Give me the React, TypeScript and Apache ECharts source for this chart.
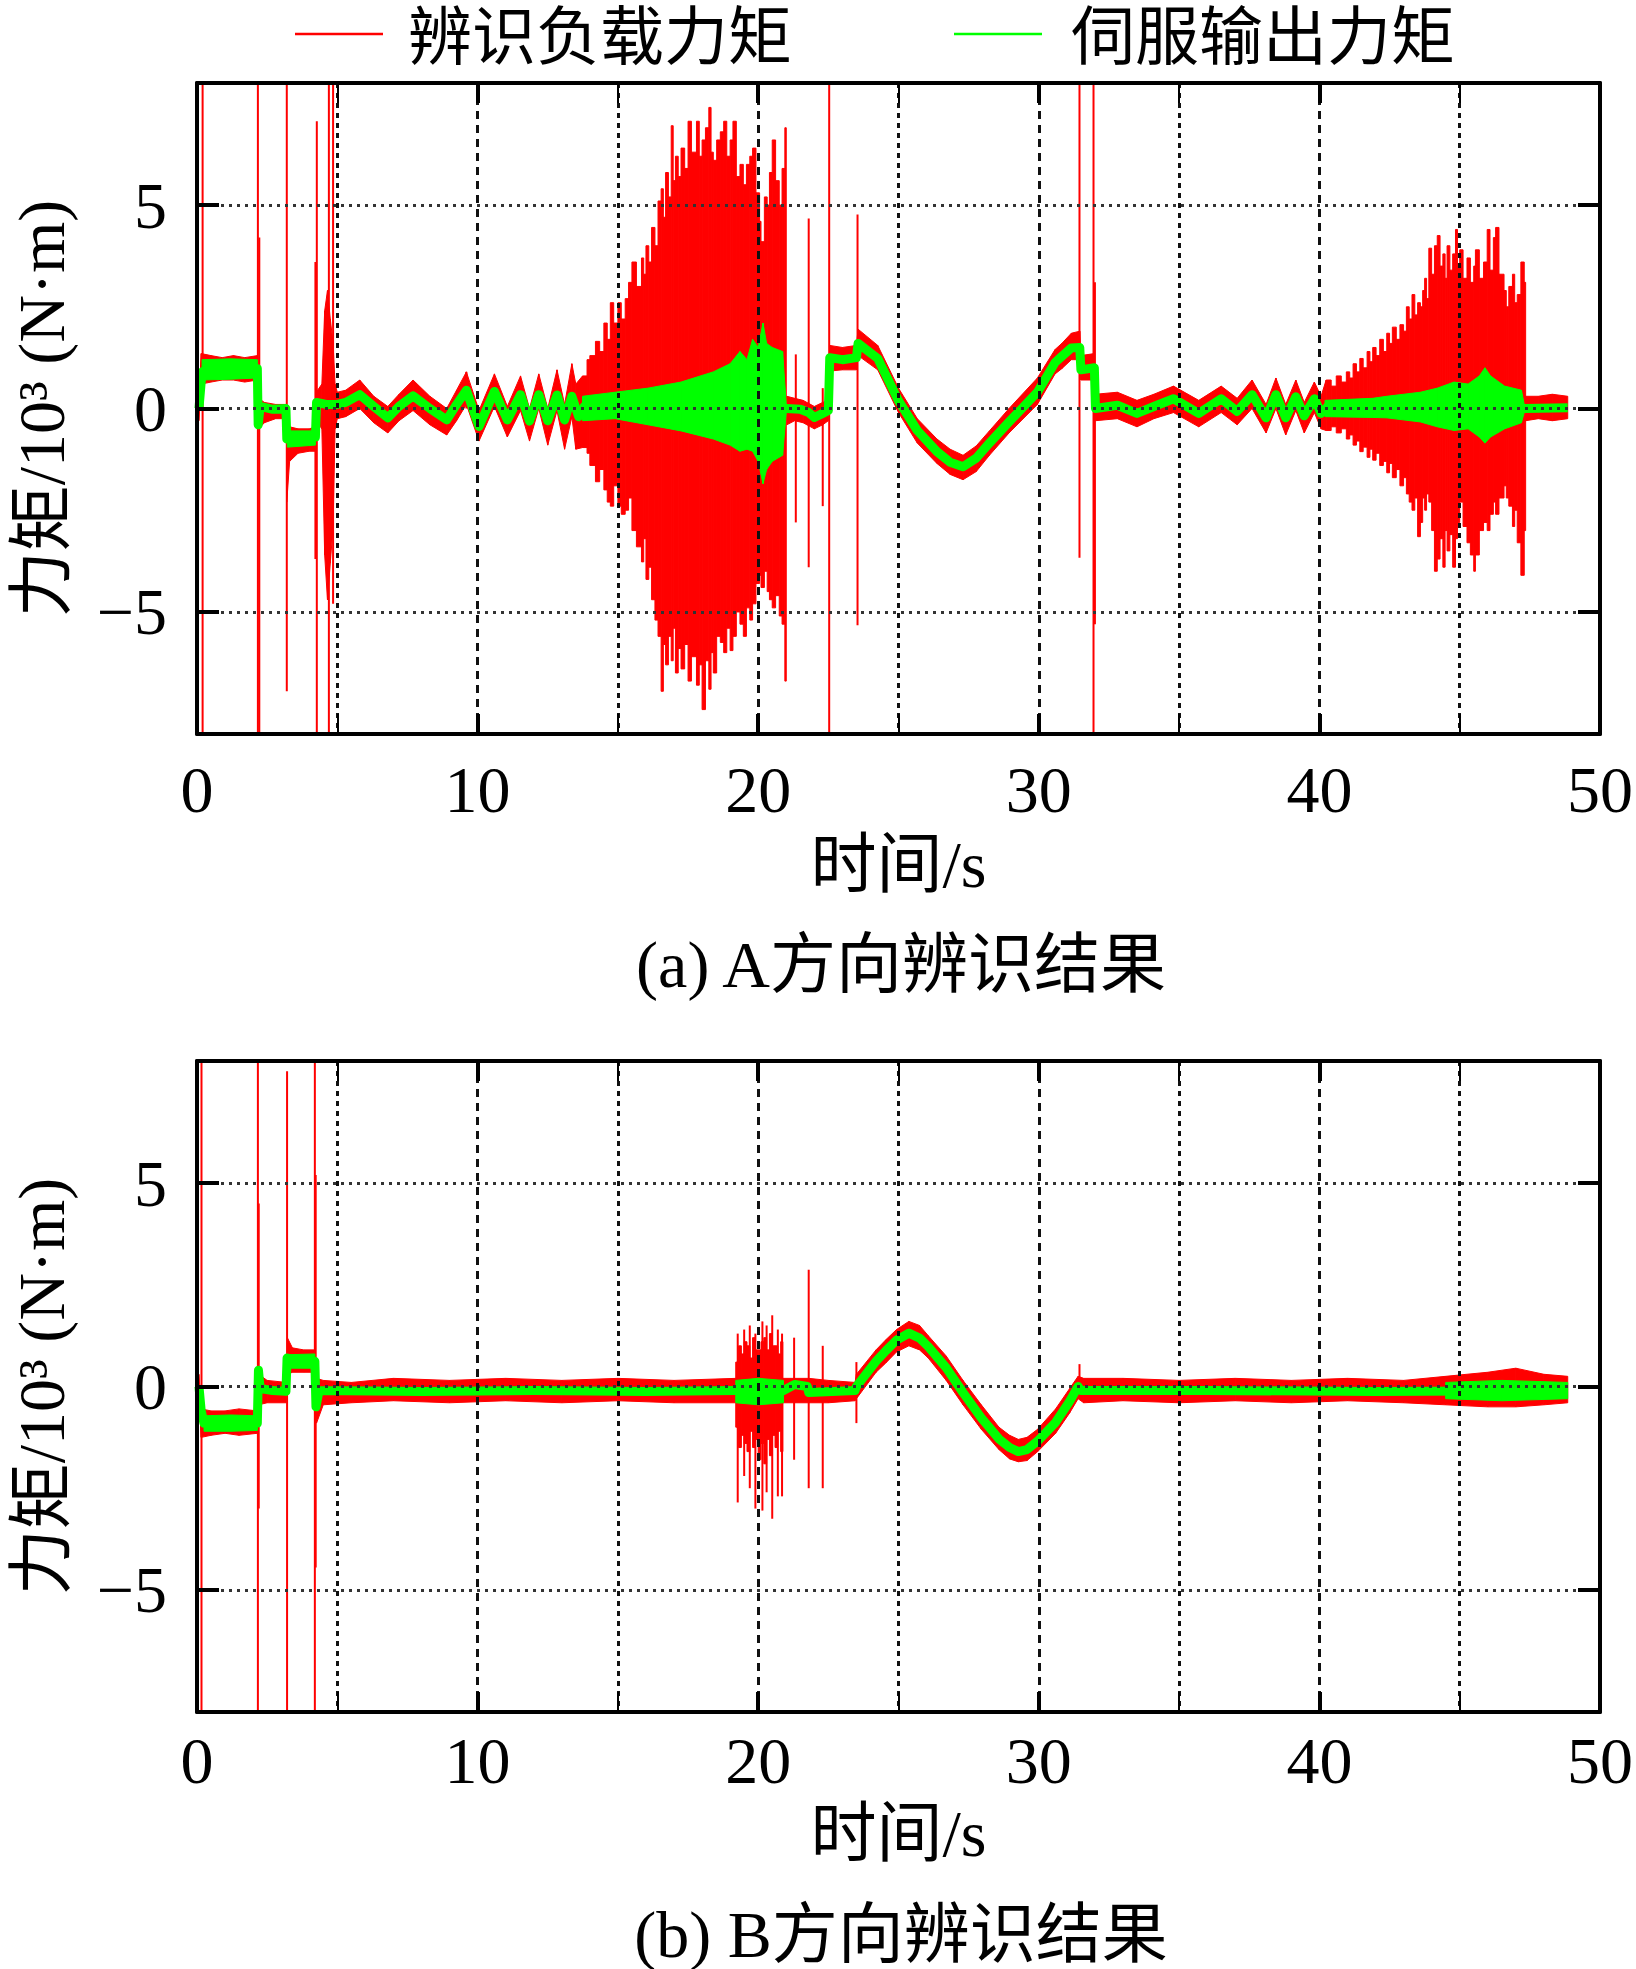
import React, { useEffect, useRef } from "react";
import * as echarts from "echarts";

// ---------- tick labels ----------
const X_TICKS = [0, 10, 20, 30, 40, 50];
const Y_TICKS = [-5, 0, 5];
const LEGEND_NAMES = ["辨识负载力矩", "伺服输出力矩"];
const TITLES = ["(a) A方向辨识结果", "(b) B方向辨识结果"];

// ---------- chart A : servo output torque (green centre) [t, v] ----------
const servoA: number[][] = [
  [0.07, 0.0], [0.18, 0.9], [0.5, 1.0], [1.0, 0.95], [1.5, 1.0], [2.15, 0.98], [2.18, -0.4], [2.25, 0.05],
  [2.7, -0.02], [3.17, 0.0], [3.2, -0.75], [3.7, -0.72], [4.22, -0.7], [4.26, 0.15], [4.6, 0.1], [5.0, 0.1],
  [5.3, 0.15], [5.8, 0.34], [6.3, 0.05], [6.8, -0.23], [7.2, 0.05], [7.7, 0.31], [8.3, 0.0], [8.9, -0.28],
  [9.25, 0.1], [9.6, 0.45], [10.05, -0.44], [10.6, 0.42], [11.06, -0.28], [11.53, 0.34], [11.85, -0.31],
  [12.18, 0.34], [12.5, -0.3], [12.83, 0.33], [13.1, -0.28], [13.36, 0.3], [13.6, -0.2], [13.8, 0.05],
  [21.0, 0.0], [21.5, -0.02], [21.8, -0.1], [22.0, -0.22], [22.3, -0.12], [22.5, -0.05], [22.55, 1.25],
  [23.0, 1.2], [23.5, 1.25], [23.56, 1.6], [24.26, 1.23], [25.0, 0.19], [25.67, -0.54], [26.37, -1.06],
  [26.84, -1.32], [27.3, -1.43], [27.77, -1.22], [28.24, -0.85], [28.94, -0.33], [29.95, 0.4], [30.58, 1.13],
  [30.82, 1.28], [31.16, 1.49], [31.46, 1.5],
  [31.5, 0.95], [31.98, 1.0], [32.02, 0.0], [32.8, 0.08], [33.5, -0.12], [34.1, 0.05], [34.8, 0.24],
  [35.7, -0.12], [36.5, 0.24], [37.07, -0.07], [37.6, 0.34], [38.1, -0.23], [38.45, 0.34], [38.8, -0.23],
  [39.16, 0.29], [39.46, -0.18], [39.82, 0.24], [40.06, -0.12], [40.3, 0.05], [47.3, 0.0], [48.85, 0.02],
];

// green spread bands [t, high, low]
const servoBandA1: number[][] = [[0.18, 1.2, 0.7], [1.2, 1.22, 0.72], [2.15, 1.2, 0.75]];
const servoBandA2: number[][] = [[3.22, -0.55, -0.95], [4.22, -0.55, -0.9]];
const servoBandA3: number[][] = [
  [13.74, 0.3, -0.3], [14.9, 0.4, -0.25], [16.07, 0.5, -0.4], [17.25, 0.65, -0.55], [18.4, 0.9, -0.75],
  [19.0, 1.1, -0.9], [19.35, 1.4, -1.05], [19.6, 1.2, -1.0], [19.8, 1.7, -1.05], [20.0, 1.5, -1.3],
  [20.17, 2.1, -1.85], [20.3, 1.6, -1.5], [20.5, 1.5, -1.3], [20.87, 1.4, -1.15], [21.0, 0.1, -0.1],
];
const servoBandA4: number[][] = [
  [40.2, 0.2, -0.2], [41.9, 0.25, -0.22], [42.4, 0.3, -0.23], [43.6, 0.4, -0.33], [44.2, 0.5, -0.45],
  [44.8, 0.65, -0.54], [45.3, 0.6, -0.5], [45.7, 0.8, -0.7], [45.9, 1.0, -0.85], [46.1, 0.8, -0.7],
  [46.6, 0.55, -0.5], [47.2, 0.45, -0.35], [47.3, 0.1, -0.1],
];

// ---------- chart A : identified load torque (red) bands [t, high, low] ----------
const identBandA1: number[][] = [
  [0.07, 0.3, -0.3], [0.15, 1.35, 0.6], [0.5, 1.3, 0.65], [0.9, 1.25, 0.7], [1.3, 1.3, 0.7], [1.7, 1.25, 0.65],
  [2.15, 1.3, 0.7],
];
const identBandA2: number[][] = [[2.2, 0.25, -0.5], [2.4, 0.15, -0.35], [2.8, 0.1, -0.25], [3.18, 0.1, -0.25]];
const identBandA3: number[][] = [[3.2, -0.5, -2.3], [3.3, -0.45, -1.3], [3.6, -0.5, -1.1], [4.0, -0.5, -1.05], [4.24, -0.45, -1.05]];
const identBandA4: number[][] = [
  [4.25, 0.4, -0.3], [4.45, 0.6, -0.5], [4.55, 2.4, -3.6], [4.65, 2.9, -4.7], [4.75, 2.2, -3.8], [4.85, 1.6, -2.9],
  [4.92, 0.6, -0.5], [5.0, 0.4, -0.25], [5.3, 0.45, -0.2], [5.8, 0.7, 0.0], [6.3, 0.3, -0.35], [6.8, 0.05, -0.6],
  [7.2, 0.35, -0.3], [7.7, 0.7, -0.05], [8.3, 0.3, -0.4], [8.9, 0.0, -0.65], [9.25, 0.45, -0.3], [9.6, 0.9, 0.1],
  [10.05, -0.05, -0.8], [10.6, 0.85, 0.05], [11.06, 0.05, -0.7], [11.53, 0.8, -0.05], [11.85, 0.0, -0.8],
  [12.18, 0.85, 0.0], [12.5, 0.0, -0.9], [12.83, 0.95, -0.05], [13.1, 0.1, -1.0], [13.36, 1.1, -0.2],
  [13.5, 0.6, -1.0], [13.74, 0.8, -0.96],
];
// burst envelope, drawn as a skyline of columns
const identBurstA1: number[][] = [
  [13.74, 0.8, -0.96], [13.9, 1.2, -1.1], [14.0, 1.3, -1.4], [14.2, 1.65, -1.8], [14.35, 1.4, -1.5],
  [14.5, 2.1, -2.0], [14.62, 1.7, -2.3], [14.73, 2.6, -2.4], [14.85, 2.1, -1.9], [15.0, 2.6, -2.4],
  [15.12, 2.2, -2.6], [15.26, 2.7, -2.5], [15.38, 3.1, -2.2], [15.5, 3.6, -3.0], [15.66, 3.0, -3.4],
  [15.84, 3.7, -3.77], [15.92, 3.3, -3.2], [16.0, 4.0, -4.2], [16.1, 3.6, -3.9], [16.2, 4.45, -4.7],
  [16.32, 4.0, -5.2], [16.43, 5.1, -5.6], [16.54, 5.4, -6.95], [16.62, 4.7, -5.8], [16.7, 5.8, -6.3],
  [16.8, 5.2, -5.6], [16.9, 6.95, -6.2], [16.97, 5.6, -5.4], [17.05, 6.2, -6.5], [17.15, 5.7, -5.9],
  [17.25, 6.4, -6.4], [17.38, 5.9, -5.8], [17.5, 7.06, -6.7], [17.62, 6.3, -6.1], [17.8, 7.06, -6.8],
  [17.9, 6.2, -6.3], [18.0, 6.6, -7.4], [18.12, 6.9, -6.2], [18.24, 7.4, -6.9], [18.32, 6.3, -6.0],
  [18.4, 6.1, -6.5], [18.52, 6.6, -5.6], [18.65, 6.8, -5.75], [18.77, 7.06, -6.0], [18.88, 6.2, -5.4],
  [19.0, 6.6, -5.95], [19.1, 7.06, -5.6], [19.22, 5.7, -5.0], [19.35, 6.0, -5.3], [19.47, 5.5, -5.6],
  [19.58, 6.0, -4.9], [19.7, 6.2, -5.2], [19.8, 6.4, -4.8], [19.92, 5.3, -4.3], [20.05, 4.6, -4.1],
  [20.1, 4.1, -4.4], [20.22, 5.2, -4.0], [20.32, 5.0, -4.5], [20.4, 5.8, -4.7], [20.5, 6.6, -4.9],
  [20.62, 5.6, -4.6], [20.75, 5.0, -5.1], [20.85, 5.9, -5.3], [20.95, 6.9, -6.7], [21.0, 0.3, -0.3],
];
const identBandA4b: number[][] = [
  [21.02, 0.3, -0.4], [21.3, 0.25, -0.3], [21.6, 0.2, -0.35], [22.0, 0.05, -0.5], [22.3, 0.15, -0.4], [22.5, 0.2, -0.3],
];
const identBandA5: number[][] = [
  [22.55, 1.55, 0.92], [23.0, 1.5, 0.95], [23.5, 1.55, 0.95], [23.56, 1.95, 1.3], [24.26, 1.55, 0.95],
  [25.0, 0.5, -0.1], [25.67, -0.25, -0.85], [26.37, -0.75, -1.35], [26.84, -1.0, -1.62], [27.3, -1.15, -1.75],
  [27.77, -0.92, -1.55], [28.24, -0.55, -1.15], [28.94, 0.0, -0.6], [29.95, 0.75, 0.1], [30.58, 1.45, 0.85],
  [30.82, 1.6, 0.98], [31.16, 1.85, 1.2], [31.46, 1.9, 1.2], [31.5, 1.3, 0.7], [31.98, 1.35, 0.7],
];
const identBandA6: number[][] = [
  [32.02, 0.35, -0.3], [32.8, 0.4, -0.25], [33.5, 0.2, -0.45], [34.1, 0.35, -0.25], [34.8, 0.55, -0.1],
  [35.7, 0.2, -0.45], [36.5, 0.55, -0.1], [37.07, 0.25, -0.4], [37.6, 0.7, 0.0], [38.1, 0.1, -0.6],
  [38.45, 0.75, 0.0], [38.8, 0.1, -0.65], [39.16, 0.7, -0.05], [39.46, 0.15, -0.6], [39.82, 0.65, -0.1],
  [40.06, 0.3, -0.5], [40.24, 0.7, -0.54],
];
const identBurstA2: number[][] = [
  [40.24, 0.7, -0.54], [40.42, 0.55, -0.45], [40.6, 0.8, -0.6], [40.78, 0.65, -0.5], [40.96, 0.9, -0.75],
  [41.08, 0.75, -0.65], [41.2, 1.1, -0.9], [41.32, 0.9, -0.8], [41.44, 1.23, -1.06], [41.56, 1.0, -0.95],
  [41.7, 1.4, -1.2], [41.8, 1.15, -1.0], [41.9, 1.5, -1.27], [42.02, 1.3, -1.1], [42.15, 1.7, -1.4],
  [42.28, 1.4, -1.3], [42.4, 1.85, -1.58], [42.5, 1.6, -1.35], [42.6, 2.0, -1.7], [42.74, 1.7, -1.5],
  [42.87, 2.06, -1.9], [43.0, 1.9, -1.7], [43.1, 2.5, -2.1], [43.2, 2.2, -2.3], [43.3, 2.8, -2.5],
  [43.4, 2.3, -2.2], [43.5, 2.6, -3.15], [43.6, 2.5, -2.8], [43.68, 2.9, -2.2], [43.75, 3.2, -2.5],
  [43.82, 2.7, -2.1], [43.9, 3.94, -2.3], [44.0, 3.3, -3.0], [44.1, 4.0, -4.0], [44.2, 4.25, -3.7],
  [44.3, 3.5, -3.2], [44.4, 3.8, -3.9], [44.48, 3.2, -3.0], [44.55, 4.0, -3.5], [44.65, 3.4, -3.1],
  [44.75, 3.8, -3.9], [44.85, 4.4, -3.2], [44.92, 3.5, -2.8], [45.0, 3.9, -2.3], [45.12, 3.2, -2.9],
  [45.26, 3.7, -3.3], [45.38, 3.1, -3.6], [45.5, 3.5, -4.0], [45.56, 3.9, -3.6], [45.7, 3.2, -3.0],
  [45.85, 3.6, -2.8], [45.98, 4.4, -3.0], [46.08, 3.4, -2.6], [46.2, 4.2, -2.3], [46.28, 4.45, -2.6],
  [46.4, 3.3, -2.2], [46.58, 2.9, -1.9], [46.66, 2.5, -2.2], [46.75, 3.0, -2.4], [46.88, 3.3, -2.9],
  [46.96, 2.6, -2.5], [47.05, 2.8, -3.3], [47.18, 3.6, -4.1], [47.3, 3.1, -3.0], [47.35, 0.3, -0.3],
];
const identBandA7: number[][] = [[47.35, 0.3, -0.3], [47.8, 0.3, -0.25], [48.3, 0.35, -0.3], [48.85, 0.3, -0.25]];
// red spikes [t, top, bottom]
const identSpikesA: number[][] = [
  [0.2, 8, -8], [2.17, 8, -8], [2.22, 4.2, -8], [3.2, 8, -6.95], [4.22, 3.6, -3.7], [4.27, 7.06, -8],
  [4.7, 8, -8], [4.85, 8, -4.8], [9.6, 0.9, 0.0], [21.34, 1.33, -2.8], [21.8, 4.67, -3.9], [22.3, 0.5, -2.4],
  [22.53, 8, -8], [23.54, 4.77, -5.33], [31.45, 8, -3.67], [31.95, 8, -8], [32.0, 3.1, -5.3],
];

// ---------- chart B ----------
const servoB: number[][] = [
  [0.07, 0.0], [0.15, -0.6], [0.25, -0.9], [1.0, -0.88], [1.6, -0.92], [2.15, -0.9], [2.19, 0.4], [2.25, -0.05],
  [2.7, -0.1], [3.17, -0.12], [3.21, 0.7], [3.6, 0.6], [4.2, 0.62], [4.24, -0.5], [4.35, -0.1], [8.0, -0.12],
  [12.0, -0.1], [16.0, -0.12], [19.2, -0.1], [20.9, -0.1], [21.3, 0.05], [21.75, 0.0], [21.8, -0.15],
  [23.45, -0.1], [23.5, 0.0], [24.2, 0.62], [24.55, 0.88], [24.93, 1.14], [25.37, 1.31], [25.75, 1.19],
  [26.06, 0.98], [26.7, 0.46], [27.3, -0.15], [27.95, -0.77], [28.58, -1.29], [28.96, -1.5], [29.27, -1.6],
  [29.58, -1.55], [29.96, -1.34], [30.6, -0.88], [31.1, -0.36],
  [31.4, 0.0], [31.5, -0.1], [36.0, -0.1], [42.0, -0.12], [48.85, -0.1],
];
const servoBandB1: number[][] = [[0.25, -0.72, -1.1], [1.2, -0.7, -1.1], [2.15, -0.72, -1.08]];
const servoBandB2: number[][] = [[3.22, 0.78, 0.45], [4.2, 0.8, 0.45]];
const servoBandB3: number[][] = [[19.2, 0.15, -0.4], [20.0, 0.2, -0.45], [20.9, 0.15, -0.4]];
const servoBandB4: number[][] = [[44.5, 0.1, -0.3], [46.5, 0.15, -0.35], [48.85, 0.1, -0.3]];

const identBandB1: number[][] = [[0.07, 0.3, -0.3], [0.15, -0.55, -1.25], [0.5, -0.6, -1.2], [1.0, -0.6, -1.15], [1.5, -0.55, -1.2], [2.15, -0.6, -1.15]];
const identBandB2: number[][] = [[2.2, 0.3, -0.45], [2.5, 0.15, -0.4], [3.18, 0.1, -0.4]];
const identBandB3: number[][] = [[3.22, 1.2, 0.3], [3.4, 0.95, 0.35], [3.8, 0.9, 0.35], [4.22, 0.9, 0.35]];
const identBandB4: number[][] = [
  [4.26, 0.2, -0.9], [4.5, 0.15, -0.45], [5.5, 0.1, -0.4], [7.0, 0.2, -0.35], [9.0, 0.15, -0.4], [11.0, 0.2, -0.35],
  [13.0, 0.15, -0.4], [15.0, 0.2, -0.35], [17.0, 0.15, -0.4], [19.2, 0.2, -0.4],
];
const identBurstB1: number[][] = [
  [19.2, 0.6, -1.0], [19.3, 1.0, -1.5], [19.4, 0.8, -1.2], [19.5, 1.1, -1.4], [19.6, 1.0, -1.6], [19.7, 0.7, -1.1],
  [19.8, 1.2, -1.5], [19.9, 0.9, -1.3], [20.0, 0.9, -1.8], [20.1, 1.1, -1.4], [20.2, 1.2, -1.9], [20.3, 0.9, -1.3],
  [20.4, 1.3, -1.7], [20.5, 1.0, -1.2], [20.6, 1.0, -1.5], [20.7, 0.8, -1.1], [20.8, 1.1, -1.6], [20.88, 0.2, -0.4],
];
const identBandB5: number[][] = [
  [20.88, 0.2, -0.4], [21.3, 0.2, -0.4], [21.8, 0.2, -0.4],
  [22.5, 0.15, -0.4], [23.45, 0.1, -0.35], [23.5, 0.3, -0.3], [24.2, 0.9, 0.35], [24.55, 1.15, 0.58],
  [24.93, 1.4, 0.85], [25.37, 1.6, 1.0], [25.75, 1.5, 0.9], [26.06, 1.25, 0.7], [26.7, 0.75, 0.15],
  [27.3, 0.15, -0.45], [27.95, -0.45, -1.05], [28.58, -1.0, -1.55], [28.96, -1.2, -1.78], [29.27, -1.3, -1.85],
  [29.58, -1.25, -1.82], [29.96, -1.05, -1.6], [30.6, -0.55, -1.15], [31.1, -0.05, -0.65],
  [31.4, 0.25, -0.3], [31.6, 0.2, -0.4], [33.0, 0.2, -0.35], [35.0, 0.15, -0.4], [37.0, 0.2, -0.35],
  [39.0, 0.15, -0.4], [41.0, 0.2, -0.35], [43.0, 0.15, -0.4], [44.5, 0.25, -0.45], [46.0, 0.35, -0.5],
  [47.0, 0.45, -0.5], [48.0, 0.3, -0.45], [48.85, 0.25, -0.4],
];
const identSpikesB: number[][] = [
  [0.16, 8, -8], [2.17, 8, -8], [2.2, 4.5, -3.0], [3.21, 7.75, -8], [4.2, 8, -8], [4.23, 5.2, -4.45],
  [19.27, 1.3, -2.85], [19.5, 1.4, -2.2], [19.7, 1.5, -2.5], [19.9, 1.3, -3.0], [20.15, 1.6, -3.05],
  [20.3, 1.5, -2.6], [20.5, 1.75, -3.25], [20.7, 1.4, -2.7], [20.85, 1.3, -2.7], [21.28, 1.2, -1.8],
  [21.8, 2.87, -2.5], [22.3, 1.0, -2.5], [23.5, 0.6, -0.9], [31.45, 0.55, -0.1],
];

// ---------- styling ----------
const FONT = '"Liberation Serif", "Times New Roman", "Noto Sans CJK SC", serif';
const RED = "#ff0000";
const GREEN = "#00ff00";

const bandSeries = (name: string, data: number[][], color: string, idx: number, z: number) => ({
  type: "custom",
  name,
  xAxisIndex: idx,
  yAxisIndex: idx,
  z,
  clip: true,
  silent: true,
  data,
  encode: { x: 0, y: [1, 2] },
  renderItem: (params: any, api: any) => {
    const i = params.dataIndex;
    const next = data[i + 1];
    if (!next) return { type: "group", children: [] };
    const a1 = api.coord([api.value(0), api.value(1)]);
    const a2 = api.coord([api.value(0), api.value(2)]);
    const b1 = api.coord([next[0], next[1]]);
    const b2 = api.coord([next[0], next[2]]);
    return {
      type: "polygon",
      shape: { points: [a1, b1, b2, a2] },
      style: { fill: color, stroke: color, lineWidth: 1 },
    };
  },
});

// skyline columns: each item spans to the next sample with its own high / low
const burstSeries = (name: string, data: number[][], color: string, idx: number, z: number) => ({
  type: "custom",
  name,
  xAxisIndex: idx,
  yAxisIndex: idx,
  z,
  clip: true,
  silent: true,
  data,
  encode: { x: 0, y: [1, 2] },
  renderItem: (params: any, api: any) => {
    const i = params.dataIndex;
    const next = data[i + 1];
    if (!next) return { type: "group", children: [] };
    const p1 = api.coord([api.value(0), api.value(1)]);
    const p2 = api.coord([next[0], api.value(2)]);
    return {
      type: "rect",
      shape: { x: p1[0], y: p1[1], width: Math.max(1, p2[0] - p1[0]), height: p2[1] - p1[1] },
      style: { fill: color, stroke: color, lineWidth: 1 },
    };
  },
});

const spikeSeries = (name: string, data: number[][], color: string, idx: number, z: number) => ({
  type: "custom",
  name,
  xAxisIndex: idx,
  yAxisIndex: idx,
  z,
  clip: true,
  silent: true,
  data,
  encode: { x: 0, y: [1, 2] },
  renderItem: (params: any, api: any) => {
    const p1 = api.coord([api.value(0), api.value(1)]);
    const p2 = api.coord([api.value(0), api.value(2)]);
    return {
      type: "line",
      shape: { x1: p1[0], y1: p1[1], x2: p2[0], y2: p2[1] },
      style: { stroke: color, lineWidth: 2 },
    };
  },
});

const lineSeries = (name: string, data: number[][], color: string, idx: number, z: number, width: number) => ({
  type: "line",
  name,
  xAxisIndex: idx,
  yAxisIndex: idx,
  z,
  data,
  symbol: "none",
  showSymbol: false,
  silent: true,
  lineStyle: { color, width, join: "round" },
  itemStyle: { color },
});

const yFmt = (v: number) => (v < 0 ? "\u2212" + Math.abs(v) : String(v));

const makeX = (grid: number, nameGap: number, margin: number) => [
  {
    type: "value", gridIndex: grid, min: 0, max: 50, interval: 10, position: "bottom", z: 5,
    axisLine: { show: true, onZero: false, lineStyle: { color: "#000", width: 4 } },
    axisTick: { show: true, inside: true, length: 20, lineStyle: { color: "#000", width: 4 } },
    minorTick: { show: true, splitNumber: 2, length: 20, lineStyle: { color: "#000", width: 2 } },
    splitLine: { show: true, lineStyle: { color: "#111", width: 3, type: [8, 6] } },
    minorSplitLine: { show: true, lineStyle: { color: "#111", width: 3, type: [5, 5] } },
    axisLabel: { show: true, margin, fontSize: 66, color: "#000", fontFamily: FONT, customValues: X_TICKS },
    name: "时间/s", nameLocation: "middle", nameGap,
    nameTextStyle: { fontSize: 66, color: "#000", fontFamily: FONT },
  },
  {
    type: "value", gridIndex: grid, min: 0, max: 50, interval: 10, position: "top", z: 5,
    axisLine: { show: true, onZero: false, lineStyle: { color: "#000", width: 4 } },
    axisTick: { show: true, inside: true, length: 20, lineStyle: { color: "#000", width: 4 } },
    minorTick: { show: true, splitNumber: 2, length: 20, lineStyle: { color: "#000", width: 2 } },
    splitLine: { show: false },
    axisLabel: { show: false },
  },
];

const makeY = (grid: number) => [
  {
    type: "value", gridIndex: grid, min: -8, max: 8, position: "left", z: 5,
    axisLine: { show: true, onZero: false, lineStyle: { color: "#000", width: 4 } },
    axisTick: { show: true, inside: true, length: 22, customValues: Y_TICKS, lineStyle: { color: "#000", width: 4 } },
    axisLabel: { show: true, margin: 30, fontSize: 66, color: "#000", fontFamily: FONT, customValues: Y_TICKS, formatter: yFmt },
    splitLine: { show: true, lineStyle: { color: "#333", width: 3, type: [3, 5] } },
    name: "力矩/10³ (N·m)", nameLocation: "middle", nameRotate: 90, nameGap: 123,
    nameTextStyle: { fontSize: 66, color: "#000", fontFamily: FONT },
  },
  {
    type: "value", gridIndex: grid, min: -8, max: 8, position: "right", z: 5,
    axisLine: { show: true, onZero: false, lineStyle: { color: "#000", width: 4 } },
    axisTick: { show: true, inside: true, length: 22, customValues: Y_TICKS, lineStyle: { color: "#000", width: 4 } },
    axisLabel: { show: false },
    splitLine: { show: false },
  },
];

export default function App() {
  const ref = useRef<HTMLDivElement>(null);
  useEffect(() => {
    if (!ref.current) return;
    const chart = echarts.init(ref.current, null, { renderer: "svg" });
    const [nRed, nGreen] = LEGEND_NAMES;
    chart.setOption({
      animation: false,
      backgroundColor: "#fff",
      grid: [
        { left: 194, top: 83, width: 1415, height: 651, containLabel: false },
        { left: 194, top: 1061, width: 1415, height: 651, containLabel: false },
      ],
      xAxis: [...makeX(0, 97, 22), ...makeX(1, 88, 15)],
      yAxis: [...makeY(0), ...makeY(1)],
      series: [
        // chart A
        bandSeries(nRed, identBandA1, RED, 0, 2),
        bandSeries(nRed, identBandA2, RED, 0, 2),
        bandSeries(nRed, identBandA3, RED, 0, 2),
        bandSeries(nRed, identBandA4, RED, 0, 2),
        burstSeries(nRed, identBurstA1, RED, 0, 2),
        bandSeries(nRed, identBandA4b, RED, 0, 2),
        bandSeries(nRed, identBandA5, RED, 0, 2),
        bandSeries(nRed, identBandA6, RED, 0, 2),
        burstSeries(nRed, identBurstA2, RED, 0, 2),
        bandSeries(nRed, identBandA7, RED, 0, 2),
        spikeSeries(nRed, identSpikesA, RED, 0, 2),
        bandSeries(nGreen, servoBandA1, GREEN, 0, 3),
        bandSeries(nGreen, servoBandA2, GREEN, 0, 3),
        bandSeries(nGreen, servoBandA3, GREEN, 0, 3),
        bandSeries(nGreen, servoBandA4, GREEN, 0, 3),
        lineSeries(nGreen, servoA, GREEN, 0, 3, 9),
        // chart B
        bandSeries(nRed, identBandB1, RED, 2, 2),
        bandSeries(nRed, identBandB2, RED, 2, 2),
        bandSeries(nRed, identBandB3, RED, 2, 2),
        bandSeries(nRed, identBandB4, RED, 2, 2),
        burstSeries(nRed, identBurstB1, RED, 2, 2),
        bandSeries(nRed, identBandB5, RED, 2, 2),
        spikeSeries(nRed, identSpikesB, RED, 2, 2),
        bandSeries(nGreen, servoBandB1, GREEN, 2, 3),
        bandSeries(nGreen, servoBandB2, GREEN, 2, 3),
        bandSeries(nGreen, servoBandB3, GREEN, 2, 3),
        bandSeries(nGreen, servoBandB4, GREEN, 2, 3),
        lineSeries(nGreen, servoB, GREEN, 2, 3, 9),
      ],
      graphic: [
        { type: "line", shape: { x1: 295, y1: 34, x2: 383, y2: 34 }, style: { stroke: RED, lineWidth: 2.5 } },
        { type: "text", x: 408, y: 37, style: { text: nRed, fontSize: 64, fontFamily: FONT, fill: "#000", verticalAlign: "middle", align: "left" } },
        { type: "line", shape: { x1: 954, y1: 34, x2: 1042, y2: 34 }, style: { stroke: GREEN, lineWidth: 2.5 } },
        { type: "text", x: 1071, y: 37, style: { text: nGreen, fontSize: 64, fontFamily: FONT, fill: "#000", verticalAlign: "middle", align: "left" } },
        { type: "text", x: 901, y: 964, style: { text: TITLES[0], fontSize: 66, fontFamily: FONT, fill: "#000", verticalAlign: "middle", align: "center" } },
        { type: "text", x: 901, y: 1934, style: { text: TITLES[1], fontSize: 66, fontFamily: FONT, fill: "#000", verticalAlign: "middle", align: "center" } },
      ],
    });
    return () => chart.dispose();
  }, []);
  return (
    <div
      ref={ref}
      style={{ position: "absolute", left: 0, top: 0, width: 1636, height: 1969, background: "#fff" }}
    />
  );
}
